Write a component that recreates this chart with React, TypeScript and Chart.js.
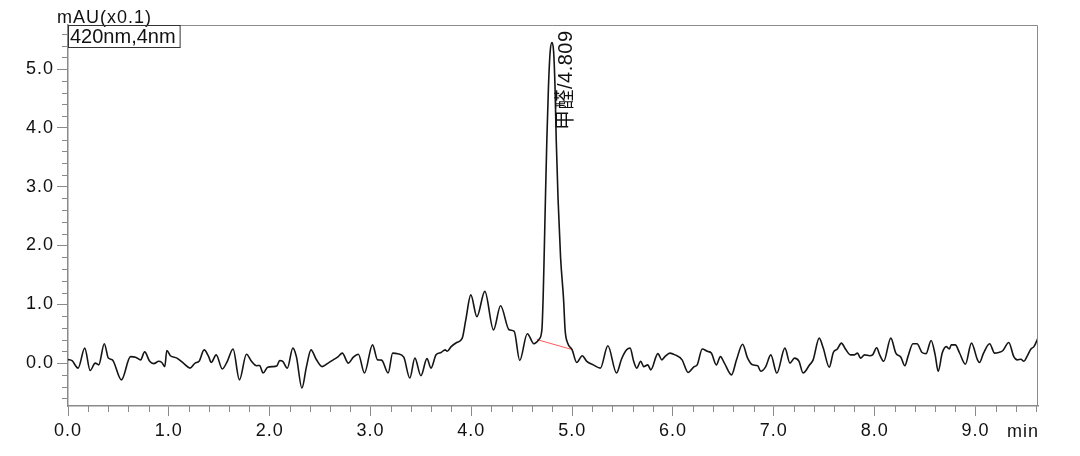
import React, { useEffect, useRef } from 'react';
import { Chart, registerables } from 'chart.js';

Chart.register(...registerables);

// ---- data ----
const times = [
  0.0, 0.04, 0.1, 0.166, 0.22, 0.27, 0.305, 0.36, 0.4, 0.44, 0.53, 0.62, 0.67, 0.72, 0.76, 0.81, 0.85, 0.9, 0.93, 0.96,
  0.98, 1.015, 1.08, 1.15, 1.21, 1.26, 1.3, 1.35, 1.395, 1.42, 1.47, 1.53, 1.58, 1.637, 1.7, 1.77, 1.82, 1.87, 1.9, 1.935,
  1.98, 2.03, 2.07, 2.1, 2.13, 2.175, 2.23, 2.265, 2.32, 2.365, 2.41, 2.46, 2.52, 2.58, 2.63, 2.68, 2.72, 2.78, 2.83, 2.88,
  2.94, 3.02, 3.07, 3.11, 3.175, 3.22, 3.27, 3.33, 3.39, 3.44, 3.5, 3.56, 3.6, 3.65, 3.7, 3.74, 3.76, 3.8, 3.855, 3.91,
  3.945, 3.995, 4.055, 4.134, 4.22, 4.29, 4.375, 4.425, 4.48, 4.555, 4.62, 4.67, 4.7, 4.712, 4.722, 4.735, 4.749, 4.765, 4.782, 4.8,
  4.816, 4.83, 4.842, 4.86, 4.885, 4.915, 4.93, 4.955, 5.0, 5.045, 5.1, 5.145, 5.21, 5.28, 5.354, 5.44, 5.49, 5.54, 5.575, 5.61,
  5.64, 5.68, 5.71, 5.75, 5.78, 5.85, 5.89, 5.92, 5.97, 6.02, 6.09, 6.15, 6.21, 6.24, 6.29, 6.34, 6.38, 6.43, 6.47, 6.51,
  6.58, 6.63, 6.69, 6.74, 6.79, 6.84, 6.87, 6.92, 6.97, 7.03, 7.11, 7.16, 7.205, 7.25, 7.29, 7.355, 7.39, 7.45, 7.49, 7.55,
  7.59, 7.63, 7.67, 7.71, 7.76, 7.8, 7.83, 7.86, 7.9, 7.95, 7.98, 8.02, 8.05, 8.09, 8.16, 8.21, 8.26, 8.3, 8.33, 8.38,
  8.42, 8.47, 8.51, 8.56, 8.6, 8.63, 8.67, 8.71, 8.74, 8.76, 8.8, 8.84, 8.9, 8.96, 9.02, 9.04, 9.08, 9.14, 9.19, 9.23,
  9.27, 9.33, 9.38, 9.415, 9.45, 9.48, 9.51, 9.55, 9.58, 9.62,
];
const signal = [
  0.06, 0.04, -0.085, 0.255, -0.125, 0.0, -0.03, 0.33, 0.085, 0.055, -0.285, 0.11, 0.1, 0.055, 0.19, 0.03, -0.01, 0.03, 0.01, -0.06,
  0.215, 0.125, 0.085, -0.01, -0.085, 0.0, 0.03, 0.225, 0.11, 0.01, 0.14, -0.1, 0.03, 0.24, -0.285, 0.15, 0.03, -0.045, -0.04, -0.17,
  -0.07, -0.06, -0.05, 0.045, 0.03, -0.085, 0.255, 0.11, -0.425, -0.06, 0.225, 0.07, -0.06, 0.0, 0.055, 0.11, 0.17, 0.0, 0.1, 0.15,
  -0.17, 0.31, 0.055, 0.05, -0.17, 0.17, 0.16, 0.1, -0.255, 0.085, -0.215, 0.075, -0.085, 0.14, 0.18, 0.225, 0.2, 0.28, 0.35, 0.425,
  0.735, 1.16, 0.79, 1.22, 0.565, 0.975, 0.565, 0.54, 0.045, 0.5, 0.33, 0.4, 0.57, 1.1, 1.8, 2.8, 3.8, 4.7, 5.3, 5.45,
  5.3, 4.7, 3.8, 2.8, 1.8, 1.08, 0.565, 0.34, 0.225, 0.01, 0.125, 0.03, -0.03, -0.085, 0.295, -0.17, 0.07, 0.225, 0.255, 0.03,
  -0.085, 0.03, -0.06, -0.03, -0.115, 0.16, 0.055, 0.11, 0.17, 0.14, 0.055, -0.16, -0.06, -0.03, 0.24, 0.2, 0.17, -0.03, 0.11, 0.0,
  -0.2, 0.055, 0.32, 0.085, -0.03, -0.045, -0.14, -0.06, 0.14, -0.17, 0.255, 0.0, 0.085, 0.03, -0.17, -0.03, 0.055, 0.425, 0.255, -0.07,
  0.18, 0.24, 0.34, 0.24, 0.14, 0.14, 0.17, 0.085, 0.14, 0.125, 0.14, 0.26, 0.14, 0.03, 0.425, 0.17, 0.1, -0.045, 0.11, 0.33,
  0.33, 0.18, 0.16, 0.385, 0.14, -0.14, 0.17, 0.28, 0.24, 0.31, 0.31, 0.18, -0.02, 0.34, 0.055, 0.01, 0.17, 0.33, 0.17, 0.18,
  0.21, 0.35, 0.11, 0.055, 0.065, 0.03, 0.11, 0.24, 0.28, 0.425,
];
const baselineTimes = [4.65, 5.0];
const baselineValues = [0.4, 0.23];

const peakTime = 4.809;
const peakLabel = '甲醛/4.809';
const yUnitLabel = 'mAU(x0.1)';
const channelLabel = '420nm,4nm';
const xUnitLabel = 'min';

const X_MIN = 0;
const X_MAX = 9.62;
const Y_MIN = -0.73;
const Y_MAX = 5.75;
const MINOR_STEP = 0.2;

const AXIS_GREY = '#8a8a8a';
const TEXT = '#111111';
const FONT = '"Liberation Sans", Arial, "Noto Sans CJK SC", sans-serif';

const decorPlugin = {
  id: 'decor',
  beforeLayout(chart: any) {
    chart.ctx.letterSpacing = '1px';
  },
  beforeDraw(chart: any) {
    chart.ctx.letterSpacing = '1px';
  },
  afterDraw(chart: any) {
    const { ctx, chartArea: a } = chart;
    const xs = chart.scales.x;
    const ys = chart.scales.y;
    ctx.save();
    // top and right frame
    ctx.strokeStyle = AXIS_GREY;
    ctx.lineWidth = 1;
    ctx.beginPath();
    ctx.moveTo(a.left, a.top + 0.5);
    ctx.lineTo(a.right - 0.5, a.top + 0.5);
    ctx.lineTo(a.right - 0.5, a.bottom);
    ctx.stroke();

    // minor ticks
    ctx.beginPath();
    for (let i = 1; i * MINOR_STEP < X_MAX; i++) {
      if (i % 5 === 0) continue;
      const px = Math.round(xs.getPixelForValue(i * MINOR_STEP)) + 0.5;
      ctx.moveTo(px, a.bottom);
      ctx.lineTo(px, a.bottom + 6);
    }
    for (let i = Math.ceil(Y_MIN / MINOR_STEP); i * MINOR_STEP < Y_MAX; i++) {
      if (i % 5 === 0) continue;
      const py = Math.round(ys.getPixelForValue(i * MINOR_STEP)) + 0.5;
      ctx.moveTo(a.left, py);
      ctx.lineTo(a.left - 6, py);
    }
    ctx.stroke();

    // unit labels
    ctx.fillStyle = TEXT;
    ctx.font = `18px ${FONT}`;
    ctx.textBaseline = 'alphabetic';
    ctx.textAlign = 'left';
    ctx.fillText(yUnitLabel, 57, 23);
    ctx.textAlign = 'right';
    ctx.fillText(xUnitLabel, a.right + 1, 437);

    // channel box
    ctx.letterSpacing = '0px';
    ctx.font = `20px ${FONT}`;
    ctx.textAlign = 'left';
    const tw = ctx.measureText(channelLabel).width;
    ctx.strokeStyle = '#333';
    ctx.strokeRect(a.left + 0.5, a.top + 0.5, tw + 6, 22);
    ctx.fillText(channelLabel, a.left + 2, a.top + 18);

    // peak label (rotated)
    ctx.save();
    ctx.translate(xs.getPixelForValue(peakTime) + 19, a.top + 105);
    ctx.rotate(-Math.PI / 2);
    ctx.font = `20px ${FONT}`;
    ctx.textAlign = 'left';
    ctx.letterSpacing = '0.5px';
    ctx.fillText(peakLabel, 0, 0);
    ctx.restore();

    ctx.restore();
  },
};

export default function App() {
  const canvasRef = useRef<HTMLCanvasElement | null>(null);

  useEffect(() => {
    const canvas = canvasRef.current;
    if (!canvas) return;
    const chart = new Chart(canvas, {
      type: 'line',
      data: {
        datasets: [
          {
            data: times.map((t, i) => ({ x: t, y: signal[i] })),
            borderColor: '#151515',
            borderWidth: 1.6,
            pointRadius: 0,
            cubicInterpolationMode: 'monotone',
            fill: false,
          },
          {
            data: baselineTimes.map((t, i) => ({ x: t, y: baselineValues[i] })),
            borderColor: '#ff5a5a',
            borderWidth: 1,
            pointRadius: 0,
            fill: false,
          },
        ],
      },
      options: {
        animation: false,
        responsive: true,
        maintainAspectRatio: false,
        layout: { padding: { top: 25, right: 42, left: 0, bottom: 0 } },
        plugins: { legend: { display: false }, tooltip: { enabled: false } },
        scales: {
          x: {
            type: 'linear',
            min: X_MIN,
            max: X_MAX,
            afterFit: (s: any) => {
              s.height = 50;
            },
            border: { display: true, color: AXIS_GREY, width: 1.5 },
            grid: { drawOnChartArea: false, drawTicks: true, tickLength: 10, color: AXIS_GREY },
            ticks: {
              stepSize: 1,
              includeBounds: false,
              maxRotation: 0,
              padding: 4,
              color: TEXT,
              font: { family: FONT, size: 18 },
              callback: (v: any) => Number(v).toFixed(1),
            },
          },
          y: {
            type: 'linear',
            min: Y_MIN,
            max: Y_MAX,
            afterFit: (s: any) => {
              s.width = 68;
            },
            border: { display: true, color: AXIS_GREY, width: 1.5 },
            grid: { drawOnChartArea: false, drawTicks: true, tickLength: 11, color: AXIS_GREY },
            ticks: {
              stepSize: 1,
              includeBounds: false,
              padding: 3,
              color: TEXT,
              font: { family: FONT, size: 18 },
              callback: (v: any) => Number(v).toFixed(1),
            },
          },
        },
      },
      plugins: [decorPlugin],
    } as any);
    return () => chart.destroy();
  }, []);

  return (
    <div style={{ position: 'absolute', left: 0, top: 0, width: 1080, height: 456, background: '#fff' }}>
      <canvas ref={canvasRef} />
    </div>
  );
}
